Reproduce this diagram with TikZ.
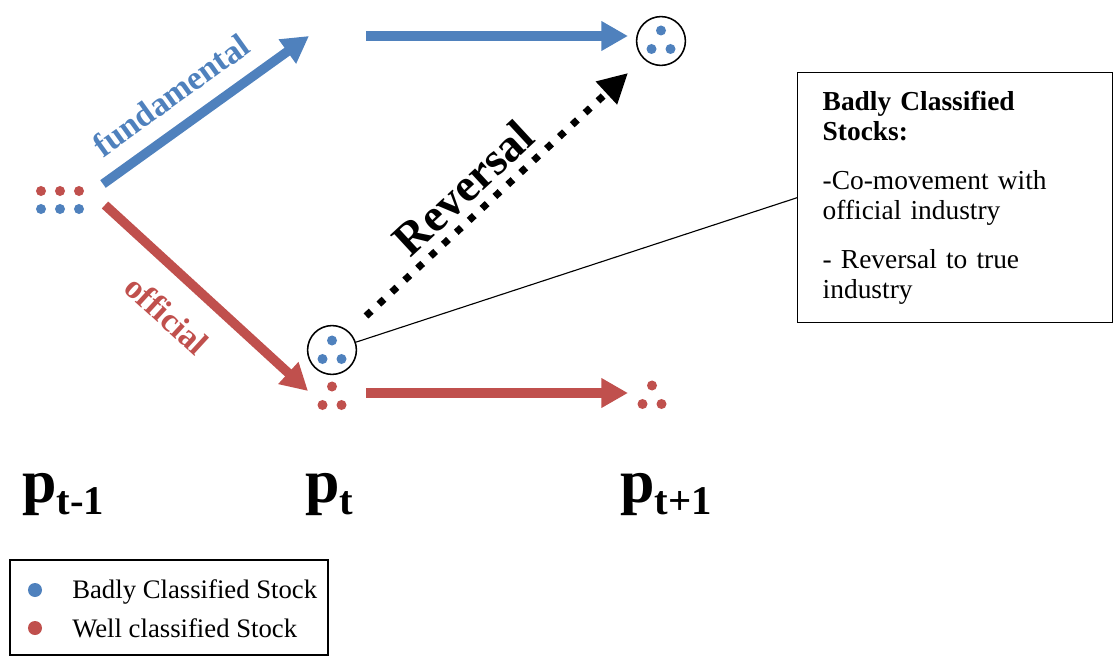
\documentclass[tikz,border=0pt]{standalone}
\usepackage{fontspec}
\setmainfont{Liberation Serif}
\usetikzlibrary{arrows.meta}
\definecolor{fundblue}{HTML}{4F81BD}
\definecolor{offred}{HTML}{C0504D}
\tikzset{
  bdot/.style = {circle, fill = fundblue, inner sep = 0, minimum size = .25cm},
  rdot/.style = {circle, fill = offred, inner sep = 0, minimum size = .25cm},
  ring/.style = {circle, draw, line width = 1.1pt, inner sep = 0, minimum size = 1.22cm},
  fatblue/.style = {draw = fundblue, line width = 6.7pt, -{Triangle[length = 19pt, width = 20pt]}},
  fatred/.style = {draw = offred, line width = 6.7pt, -{Triangle[length = 19pt, width = 20pt]}},
  plabel/.style = {anchor = base west, inner sep = 0, font = \fontsize{44}{50}\selectfont\bfseries},
  triad/.pic = {
    \node [#1] (-top) at (0, -9.5) {};
    \node [#1] (-left) at (-9.5, 9) {};
    \node [#1] (-right) at (9.5, 9) {};
  }
}
\newcommand{\sub}[1]{{\fontsize{29}{30}\selectfont\raisebox{-9pt}{#1}}}
\begin{document}
\begin{tikzpicture}[x = .025cm, y = -.025cm]
        \useasboundingbox (0, 0) rectangle (1113, 663);
        % stocks at t-1
        \foreach \x in {41, 60, 79} {
            \node [rdot] (r\x) at (\x, 191) {};
            \node [bdot] (b\x) at (\x, 209) {};
        }
        % stocks at t and t+1
        \node [ring] (fut) at (661, 41) {};
        \pic (fb) at (661, 40) {triad = bdot};
        \node [ring] (mid) at (332, 350) {};
        \pic (mb) at (332, 350) {triad = bdot};
        \pic (mr) at (332, 396) {triad = rdot};
        \pic (fr) at (652, 395) {triad = rdot};
        % arrow ends
        \coordinate (a1) at (103, 184);
        \coordinate (a2) at (105, 205);
        \coordinate (b1) at (309, 36);
        \coordinate (b2) at (366, 36);
        \coordinate (c1) at (628, 36);
        \coordinate (d1) at (308, 391);
        \coordinate (d2) at (366, 393);
        \coordinate (e1) at (628, 393);
        \coordinate (v1) at (366, 316);
        \coordinate (v2) at (628, 73);
        \draw [fatblue] (a1) -- (b1);
        \draw [fatblue] (b2) -- (c1);
        \draw [fatred] (a2) -- (d1);
        \draw [fatred] (d2) -- (e1);
        \draw [line width = 5pt, dash pattern = on 5pt off 7.5pt, -{Triangle[length = 21pt, width = 21pt]}] (v1) -- (v2);
        \node [rotate = 35.7, text = fundblue, font = \fontsize{24}{26}\selectfont\bfseries] (flab) at (171, 95) {fundamental};
        \node [rotate = -42.5, text = offred, font = \fontsize{24}{26}\selectfont\bfseries] (olab) at (167, 315) {official};
        \node [rotate = 42.8, font = \fontsize{33}{36}\selectfont\bfseries] (rlab) at (463, 188) {Reversal};
        % info box
        \node [draw, line width = 1pt, anchor = north west, minimum width = 7.875cm, minimum height = 6.25cm,
               inner xsep = .625cm, text width = 6.625cm, align = left,
               font = \fontsize{19.5}{21.5}\selectfont] (info) at (797, 72)
              {\textbf{Badly Classified}\\\textbf{Stocks:}\\[13pt]-Co-movement with\\official industry\\[13pt]- Reversal to true\\industry\\[-4pt]};
        \draw [line width = .8pt] (mid) -- (info.west);
        % time labels
        \node [plabel] (p0) at (22, 502) {p\sub{t-1}};
        \node [plabel] (p1) at (305, 502) {p\sub{t}};
        \node [plabel] (p2) at (620, 502) {p\sub{t+1}};
        % legend
        \node [draw, line width = 1pt, minimum width = 7.95cm, minimum height = 2.375cm] (legend) at (169, 607.5) {};
        \node [circle, fill = fundblue, inner sep = 0, minimum size = .35cm] (lb) at (35, 590) {};
        \node [circle, fill = offred, inner sep = 0, minimum size = .35cm] (lr) at (35, 628) {};
        \node [anchor = base west, inner sep = 0, font = \fontsize{19}{21}\selectfont] (lbt) at (72, 598) {Badly Classified Stock};
        \node [anchor = base west, inner sep = 0, font = \fontsize{19}{21}\selectfont] (lrt) at (72, 637) {Well classified Stock};
\end{tikzpicture}
\end{document}
